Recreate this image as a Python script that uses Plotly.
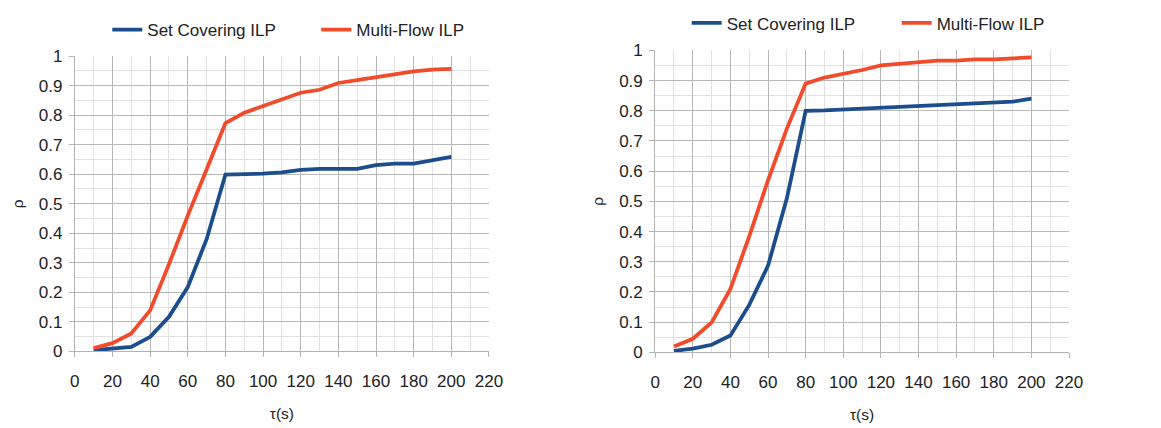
import plotly.graph_objects as go

tau = [10, 20, 30, 40, 50, 60, 70, 80, 90, 100, 110, 120, 130, 140, 150, 160, 170, 180, 190, 200]

left_set_covering = [0.004, 0.009, 0.015, 0.049, 0.117, 0.218, 0.38, 0.599, 0.600, 0.602, 0.606, 0.615, 0.618, 0.618, 0.618, 0.631, 0.636, 0.636, 0.647, 0.659]
left_multi_flow = [0.011, 0.028, 0.061, 0.139, 0.295, 0.46, 0.616, 0.773, 0.808, 0.831, 0.852, 0.876, 0.886, 0.909, 0.919, 0.929, 0.940, 0.948, 0.954, 0.957]

right_set_covering = [0.005, 0.012, 0.025, 0.056, 0.157, 0.287, 0.51, 0.800, 0.801, 0.804, 0.808, 0.810, 0.815, 0.817, 0.819, 0.823, 0.825, 0.829, 0.830, 0.840]
right_multi_flow = [0.019, 0.045, 0.099, 0.21, 0.384, 0.57, 0.741, 0.890, 0.910, 0.921, 0.935, 0.950, 0.956, 0.963, 0.966, 0.966, 0.970, 0.970, 0.974, 0.977]

series_names = ["Set Covering ILP", "Multi-Flow ILP"]
colors = ["#1c4d8c", "#f24b2c"]

W, H = 1161, 428
FONT = "Liberation Sans, Arial, sans-serif"
TXT = "#222222"

fig = go.Figure()

for vals, name, col in zip([left_set_covering, left_multi_flow], series_names, colors):
    fig.add_trace(go.Scatter(x=tau, y=vals, mode="lines", name=name,
                             line=dict(color=col, width=3.8), xaxis="x", yaxis="y",
                             legend="legend"))
for vals, name, col in zip([right_set_covering, right_multi_flow], series_names, colors):
    fig.add_trace(go.Scatter(x=tau, y=vals, mode="lines", name=name,
                             line=dict(color=col, width=3.8), xaxis="x2", yaxis="y2",
                             legend="legend2"))

def xax(domain, anchor):
    return dict(domain=domain, anchor=anchor, range=[0, 220], dtick=20, tick0=0,
                showgrid=True, gridcolor="#b8b8b8", gridwidth=1,
                minor=dict(dtick=10, showgrid=True, gridcolor="#e2e2e2", gridwidth=1),
                showline=True, linecolor="#b3b3b3", linewidth=1,
                ticks="outside", ticklen=5, tickcolor="#b3b3b3",
                ticklabelstandoff=9,
                zeroline=False, tickfont=dict(size=17, color=TXT, family=FONT),
                title=dict(text="τ(s)", font=dict(size=15.5, color=TXT, family=FONT), standoff=18))

def yax(domain, anchor):
    return dict(domain=domain, anchor=anchor, range=[0, 1], dtick=0.1, tick0=0,
                showgrid=True, gridcolor="#b8b8b8", gridwidth=1,
                minor=dict(dtick=0.05, showgrid=True, gridcolor="#e2e2e2", gridwidth=1),
                showline=True, linecolor="#b3b3b3", linewidth=1,
                ticks="outside", ticklen=5, tickcolor="#b3b3b3",
                ticklabelstandoff=3,
                zeroline=False, tickfont=dict(size=17, color=TXT, family=FONT),
                title=dict(text="ρ", font=dict(size=15.5, color=TXT, family=FONT), standoff=11))

fig.update_layout(
    width=W, height=H,
    margin=dict(l=0, r=0, t=0, b=0),
    paper_bgcolor="white", plot_bgcolor="white",
    font=dict(family=FONT, color=TXT),
    xaxis=xax([71 / W, 492 / W], "y"),
    yaxis=yax([(H - 358.3) / H, (H - 49.3) / H], "x"),
    xaxis2=xax([661 / W, 1081.7 / W], "y2"),
    yaxis2=yax([(H - 359.3) / H, (H - 43.3) / H], "x2"),
    legend=dict(orientation="h", x=104 / W, xanchor="left", y=1 - 22 / H, yanchor="middle",
                font=dict(size=17, color=TXT, family=FONT), entrywidth=164, entrywidthmode="pixels",
                bgcolor="rgba(0,0,0,0)"),
    legend2=dict(orientation="h", x=693 / W, xanchor="left", y=1 - 15 / H, yanchor="middle",
                 font=dict(size=17, color=TXT, family=FONT), entrywidth=165, entrywidthmode="pixels",
                 bgcolor="rgba(0,0,0,0)"),
)

fig.write_html("out.html")
